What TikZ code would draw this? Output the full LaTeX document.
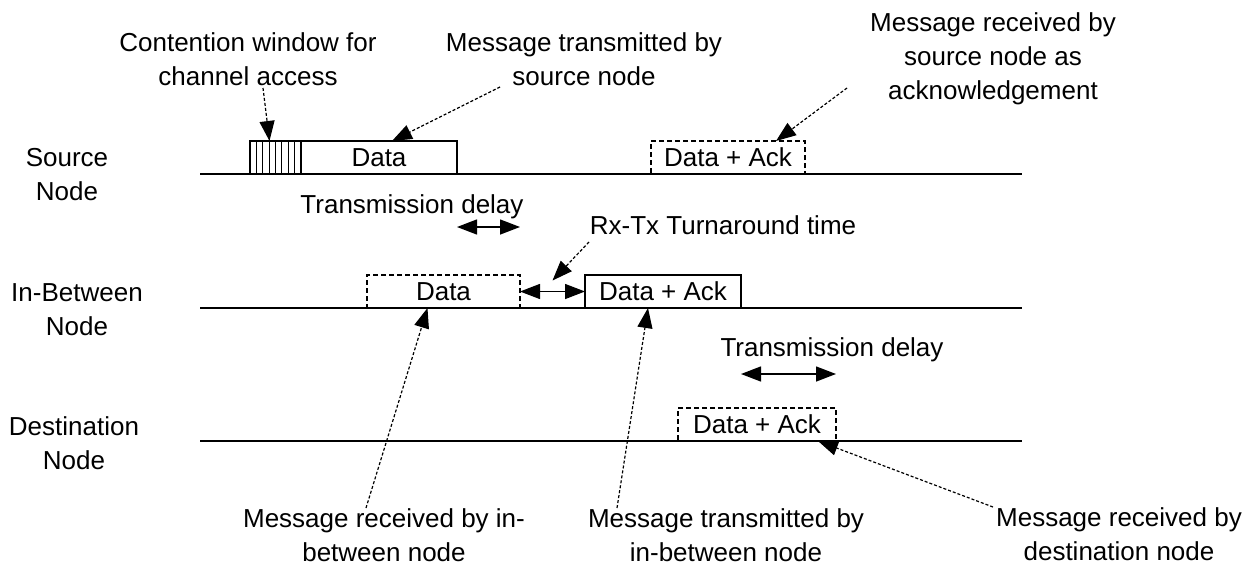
\documentclass[tikz,border=0pt]{standalone}
\usepackage{fontspec}
\setmainfont{Liberation Sans}
\usetikzlibrary{arrows.meta,calc}

\begin{document}
\begin{tikzpicture}[x=1pt,y=-1pt,
    every node/.style={font=\fontsize{26}{34}\selectfont},
    lbl/.style={align=center,anchor=base},
    timeline/.style={line width=2pt},
    msg/.style={draw,line width=2.4pt,minimum width=156pt,minimum height=33pt,inner sep=0pt,outer sep=0pt,anchor=south west},
    rcv/.style={msg,dash pattern=on 5pt off 3pt},
    note/.style={line width=1.2pt,dash pattern=on 3pt off 2pt,-{Triangle[length=20pt,width=15pt]}},
    dly/.style={line width=1.4pt,{Triangle[length=20pt,width=15pt]}-{Triangle[length=20pt,width=15pt]}}]
    \useasboundingbox (0,0) rectangle (1254,568);

    % the three time lines
    \coordinate (srcA) at (200,174); \coordinate (srcB) at (1022,174);
    \coordinate (midA) at (200,308); \coordinate (midB) at (1022,308);
    \coordinate (dstA) at (200,441); \coordinate (dstB) at (1022,441);
    \draw[timeline] (srcA) -- (srcB);
    \draw[timeline] (midA) -- (midB);
    \draw[timeline] (dstA) -- (dstB);

    % names sit on the baseline of their last line
    \node[lbl] (srcName) at (67,200) {Source\\Node};
    \node[lbl] (midName) at (77,335) {In-Between\\Node};
    \node[lbl] (dstName) at (74,469) {Destination\\Node};

    % messages on the lines
    \node[msg,minimum width=51pt] (cw) at (250,174) {};
    \foreach \k in {1,...,7} {
        \draw[line width=1.2pt] ($(cw.south west)!\k/8!(cw.south east)$) -- ($(cw.north west)!\k/8!(cw.north east)$);
    }
    \node[msg] (srcData) at (301,174) {Data};
    \node[rcv,minimum width=154pt] (srcAck) at (651,174) {Data + Ack};
    \node[rcv,minimum width=153pt] (midData) at (367,308) {Data};
    \node[msg] (midAck) at (585,308) {Data + Ack};
    \node[rcv,minimum width=158pt] (dstAck) at (678,441) {Data + Ack};

    % delays
    \node[lbl] (delayA) at (412,213) {Transmission delay};
    \node[lbl] (delayB) at (832,356) {Transmission delay};
    \node[lbl] (turnNote) at (723,234) {Rx-Tx Turnaround time};
    \coordinate (dA) at (0,227);
    \coordinate (dB) at (0,374);
    \draw[dly] (srcData.east |- dA) -- (midData.east |- dA);
    \draw[dly] (midAck.east |- dB) -- (dstAck.east |- dB);
    \draw[dly] (midData.east) -- (midAck.west);

    % notes
    \node[lbl] (cwNote) at (248,85) {Contention window for\\channel access};
    \node[lbl] (sendNote) at (584,85) {Message transmitted by\\source node};
    \node[lbl] (ackNote) at (993,99) {Message received by\\source node as\\acknowledgement};
    \node[lbl] (fwdRxNote) at (384,561) {Message received by in-\\between node};
    \node[lbl] (fwdTxNote) at (726,561) {Message transmitted by\\in-between node};
    \node[lbl] (dstRxNote) at (1119,560) {Message received by\\destination node};

    \coordinate (cwTail) at (263,88);
    \coordinate (sendTail) at (500,87);
    \coordinate (ackTail) at (847,88);
    \coordinate (turnTail) at (589,242);
    \coordinate (fwdRxTail) at (366,508);
    \coordinate (fwdTxTail) at (617,508);
    \coordinate (dstRxTail) at (993,507);
    \draw[note] (cwTail) -- ([xshift=-6pt]cw.north);
    \draw[note] (sendTail) -- ([xshift=13pt]srcData.north);
    \draw[note] (ackTail) -- ([xshift=48pt]srcAck.north);
    \draw[note] (turnTail) -- ($(midData.east)!0.5!(midAck.west)+(0,-11)$);
    \draw[note] (fwdRxTail) -- ([xshift=-16pt]midData.south);
    \draw[note] (fwdTxTail) -- ([xshift=-15pt]midAck.south);
    \draw[note] (dstRxTail) -- ([xshift=61pt]dstAck.south);

\end{tikzpicture}
\end{document}
